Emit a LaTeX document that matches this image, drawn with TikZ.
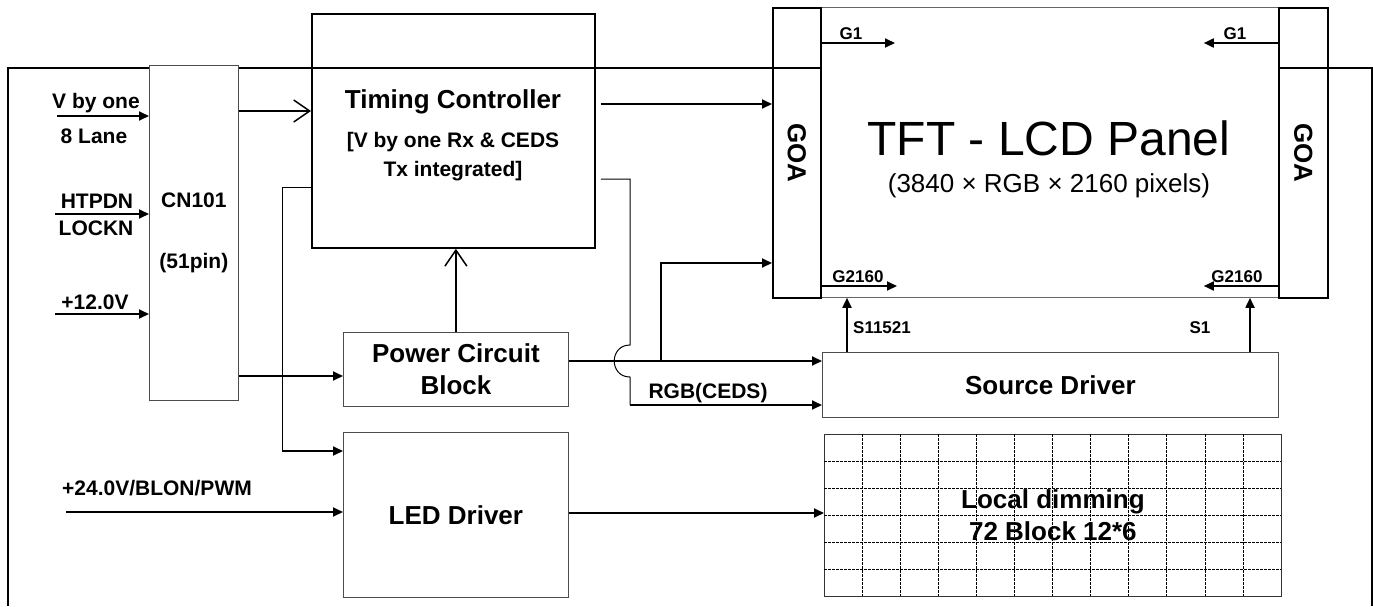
\documentclass[tikz,border=0pt]{standalone}
\usepackage{fontspec}
\setmainfont{Liberation Sans}
\usetikzlibrary{arrows.meta,positioning}

\begin{document}
\begin{tikzpicture}[x=1pt,y=-1pt,
		blk/.style={draw=black!70,line width=0.8pt,fill=white,inner sep=0pt,align=center,font=\bfseries\fontsize{26}{32}\selectfont},
		heavy/.style={draw=black,line width=1.8pt,inner sep=0pt},
		sig/.style={line width=1.8pt,-{Triangle[length=10pt,width=9pt]}},
		opensig/.style={line width=1.5pt,-{Straight Barb[length=16pt,width=22pt]}},
		wire/.style={line width=1pt},
		pin/.style={font=\bfseries\fontsize{21}{25}\selectfont,inner sep=0pt,anchor=base},
		gl/.style={font=\bfseries\fontsize{17}{20}\selectfont,inner sep=0pt,anchor=base},
		cell/.style={line width=0.6pt,dash pattern=on 2.5pt off 1.5pt}]
		\useasboundingbox (0,0) rectangle (1373,606);
		% outer frame
		\draw[line width=1.2pt] (8,606) -- (8,68) -- (1372,68) -- (1372,606);
		
		% panel with gate drivers
		\node[draw=black!60,line width=0.8pt,fill=white,inner sep=0pt,anchor=north west,minimum width=458pt,minimum height=290pt] (panel) at (820,7) {};
		\node[heavy,anchor=north west,minimum width=48pt,minimum height=290pt] (goal) at (772,7) {};
		\node[heavy,anchor=north west,minimum width=49pt,minimum height=290pt] (goar) at (1278,7) {};
		\node[rotate=-90,font=\bfseries\fontsize{26}{30}\selectfont] (goaltxt) at (goal) {GOA};
		\node[rotate=-90,font=\bfseries\fontsize{26}{30}\selectfont] (goartxt) at (goar) {GOA};
		\node[font=\fontsize{48}{50}\selectfont,inner sep=0pt,anchor=base] (tft) at (1049,155) {TFT - LCD Panel};
		\node[font=\fontsize{26}{30}\selectfont,inner sep=0pt,anchor=base] (res) at (1049,192) {(3840 × RGB × 2160 pixels)};
		
		% blocks
		\node[blk,anchor=north west,minimum width=89pt,minimum height=335pt,font=\bfseries\fontsize{21}{61}\selectfont] (cn) at (149,65) {CN101\\(51pin)};
		\node[heavy,anchor=north west,minimum width=283pt,minimum height=234pt] (tcon) at (311,13) {};
		\node[font=\bfseries\fontsize{26}{30}\selectfont,inner sep=0pt,anchor=base] (tctitle) at (453,108) {Timing Controller};
		\node[font=\bfseries\fontsize{21}{25}\selectfont,inner sep=0pt,anchor=base] (tcsuba) at (453,147) {[V by one Rx \& CEDS};
		\node[font=\bfseries\fontsize{21}{25}\selectfont,inner sep=0pt,anchor=base] (tcsubb) at (453,176) {Tx integrated]};
		\node[blk,anchor=north west,minimum width=225pt,minimum height=74pt] (pwr) at (343,332) {Power Circuit\\Block};
		\node[blk,anchor=north west,minimum width=225pt,minimum height=165pt] (led) at (343,432) {LED Driver};
		\node[blk,anchor=north west,minimum width=456pt,minimum height=65pt] (src) at (822,352) {Source Driver};
		\node[blk,fill=none,draw=black!80,anchor=north west,minimum width=457pt,minimum height=162pt] (dim) at (824,434) {Local dimming\\72 Block 12*6};
		\foreach \i in {1,...,11}
			\draw[cell] (824+\i*38.08,434) -- (824+\i*38.08,596);
		\foreach \j in {1,...,5}
			\draw[cell] (824,434+\j*27) -- (1281,434+\j*27);
		
		% inputs
		\coordinate (vin) at (57,116);
		\coordinate (hin) at (55,214);
		\coordinate (pin12) at (55,314);
		\coordinate (blin) at (66,512);
		\node[pin] (vlbl) at (96,108) {V by one};
		\node[pin] (lanelbl) at (94,143) {8 Lane};
		\node[pin] (hlbl) at (97,208) {HTPDN};
		\node[pin] (llbl) at (96,235) {LOCKN};
		\node[pin] (plbl) at (95,309) {+12.0V};
		\node[pin] (bllbl) at (157,495) {+24.0V/BLON/PWM};
		\draw[sig] (vin) -- (vin -| cn.west);
		\draw[sig] (hin) -- (hin -| cn.west);
		\draw[sig] (pin12) -- (pin12 -| cn.west);
		\draw[sig] (blin) -- (blin -| led.west);
		
		% connections
		\draw[opensig] (cn.east |- 0,111) -- (tcon.west |- 0,111);
		\draw[opensig] (pwr.north) -- (pwr.north |- tcon.south);
		\draw[sig] (cn.east |- 0,376) -- (pwr.west |- 0,376);
		\draw[sig,shorten <=5pt] (tcon.east |- 0,104) -- (goal.west |- 0,104);
		\coordinate (ledturn) at (282,451);
		\draw[wire] (tcon.west |- 0,187) -| (ledturn);
		\draw[sig] (ledturn) -- (ledturn -| led.west);
		\coordinate (hoptop) at (630,345);
		\coordinate (hopbot) at (630,377);
		\coordinate (rgbturn) at (630,405);
		\draw[wire,shorten <=5pt] (tcon.east |- 0,179) -| (hoptop) .. controls (609,345) and (609,377) .. (hopbot) -- (rgbturn);
		\draw[sig] (rgbturn) -- (rgbturn -| src.west);
		\node[pin] (rgblbl) at (708,398) {RGB(CEDS)};
		\draw[sig] (pwr.east |- 0,361) -- (src.west |- 0,361);
		\coordinate (br) at (661,361);
		\draw[sig] (br) |- (goal.west |- 0,263);
		\draw[sig] (led.east |- 0,513) -- (dim.west |- 0,513);
		
		% source and gate lines
		\draw[sig] (src.north -| 847,0) -- (panel.south -| 847,0);
		\draw[sig] (src.north -| 1250,0) -- (panel.south -| 1250,0);
		\node[gl] (slbla) at (882,333) {S11521};
		\node[gl] (slblb) at (1200,333) {S1};
		\draw[sig] (panel.west |- 0,43) -- ++(75,0);
		\draw[sig] (panel.east |- 0,43) -- ++(-75,0);
		\draw[sig] (panel.west |- 0,286) -- ++(77,0);
		\draw[sig] (panel.east |- 0,286) -- ++(-75,0);
		\node[gl] (gla) at (851,39) {G1};
		\node[gl] (glb) at (1235,39) {G1};
		\node[gl] (glc) at (858,282) {G2160};
		\node[gl] (gld) at (1237,282) {G2160};
	\end{tikzpicture}
\end{document}
